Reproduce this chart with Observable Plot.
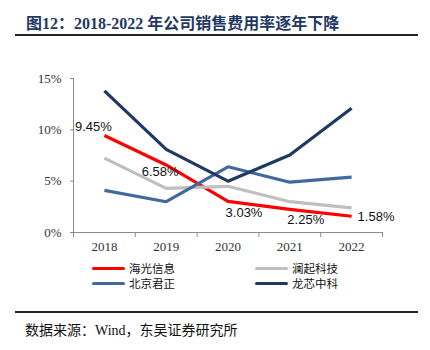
<!DOCTYPE html>
<html>
<head>
<meta charset="utf-8">
<script src="https://cdn.jsdelivr.net/npm/d3@7"></script>
<script src="https://cdn.jsdelivr.net/npm/@observablehq/plot@0.6"></script>
<style>
  html, body { margin: 0; padding: 0; background: #fff; }
  #wrap { position: relative; width: 430px; height: 350px; overflow: hidden; }
  #title { position: absolute; left: 26px; top: 10px; font: bold 16px "Liberation Serif", "Noto Sans CJK SC", serif; color: #1f3864; white-space: nowrap; }
  .hr { position: absolute; left: 15px; width: 403px; height: 2px; background: #222; }
  #chart { position: absolute; left: 0; top: 40px; }
  #chart svg text { font-family: "Liberation Serif", "Times New Roman", serif !important; }
  #chart svg g[aria-label="text"] text { font-family: "Liberation Sans", Arial, sans-serif !important; }
  #legend { position: absolute; left: 0; top: 0; width: 430px; }
  .lg { position: absolute; display: flex; align-items: center; height: 14px; line-height: 14px; font: 11.5px/14px "Noto Sans CJK SC", sans-serif; color: #111; white-space: nowrap; }
  .sw { width: 33px; height: 3px; border-radius: 2px; margin-right: 4px; }
  #footer { position: absolute; left: 25px; top: 319px; font: 14px "Liberation Serif", "Noto Sans CJK SC", serif; color: #111; white-space: nowrap; }
</style>
</head>
<body>
<div id="wrap">
  <div id="title">图12：2018-2022 年公司销售费用率逐年下降</div>
  <div class="hr" style="top:34px"></div>
  <div id="chart"></div>
  <div id="legend"></div>
  <div class="hr" style="top:311px"></div>
  <div id="footer">数据来源：Wind，东吴证券研究所</div>
</div>
<script>
// ---- data ----
const years = [2018, 2019, 2020, 2021, 2022];
const seriesNames = ["海光信息", "澜起科技", "北京君正", "龙芯中科"];
const haiguang = [9.45, 6.58, 3.03, 2.25, 1.58];
const lanqi = [7.25, 4.3, 4.5, 3.0, 2.4];
const junzheng = [4.1, 3.0, 6.4, 4.9, 5.4];
const longxin = [13.8, 8.1, 5.0, 7.55, 12.1];
const yTicks = [0, 5, 10, 15];
const colors = ["#ff0000", "#bfbfbf", "#41699e", "#1f3864"];

const seriesValues = [haiguang, lanqi, junzheng, longxin];
const rows = [];
seriesNames.forEach((name, i) => {
  years.forEach((yr, j) => rows.push({ name, year: yr, value: seriesValues[i][j] }));
});
const redRows = rows.filter(d => d.name === "海光信息");
// label offsets per point (annotation styling)
const labelStyle = [
  { dx: -11, dy: -9, anchor: "middle" },
  { dx: -6, dy: 7, anchor: "middle" },
  { dx: 16, dy: 11, anchor: "middle" },
  { dx: 16, dy: 10, anchor: "middle" },
  { dx: 6, dy: 1, anchor: "start" }
];

const bounds = years.map(y => y - 0.5).concat([years[years.length - 1] + 0.5]);
const axisColor = "#8c8c8c";

const plot = Plot.plot({
  width: 430,
  height: 222,
  marginLeft: 73,
  marginRight: 48,
  marginTop: 38,
  marginBottom: 30,
  style: { fontSize: "12.5px", color: "#333", background: "transparent" },
  x: { type: "linear", domain: [bounds[0], bounds[bounds.length - 1]] },
  y: { domain: [0, 15] },
  color: { domain: seriesNames, range: colors },
  marks: [
    Plot.axisY({ ticks: yTicks, tickFormat: d => d + "%", tickSize: 3, tickPadding: 9, stroke: axisColor, fontSize: 13, label: null }),
    Plot.axisX({ ticks: bounds, tickFormat: () => "", tickSize: 5, stroke: axisColor, label: null }),
    Plot.axisX({ ticks: years, tickFormat: d => String(d), tickSize: 0, tickPadding: 9, fontSize: 13, label: null }),
    Plot.ruleX([bounds[0]], { y1: 0, y2: 15, stroke: axisColor }),
    Plot.ruleY([0], { stroke: axisColor }),
    Plot.line(rows, { x: "year", y: "value", z: "name", stroke: "name", strokeWidth: 3.2, strokeLinejoin: "round", strokeLinecap: "butt" }),
    ...redRows.map((d, i) => Plot.text([d], {
      x: "year", y: "value",
      text: r => r.value.toFixed(2) + "%",
      dx: labelStyle[i].dx, dy: labelStyle[i].dy,
      textAnchor: labelStyle[i].anchor,
      fontSize: 13, fill: "#111"
    }))
  ]
});
document.getElementById("chart").appendChild(plot);

// legend
const legendPos = [
  { left: 92, top: 261 },
  { left: 255, top: 261 },
  { left: 92, top: 276 },
  { left: 255, top: 276 }
];
const legend = document.getElementById("legend");
seriesNames.forEach((name, i) => {
  const el = document.createElement("div");
  el.className = "lg";
  el.style.left = legendPos[i].left + "px";
  el.style.top = legendPos[i].top + "px";
  el.innerHTML = `<span class="sw" style="background:${colors[i]}"></span><span>${name}</span>`;
  legend.appendChild(el);
});
</script>
</body>
</html>
